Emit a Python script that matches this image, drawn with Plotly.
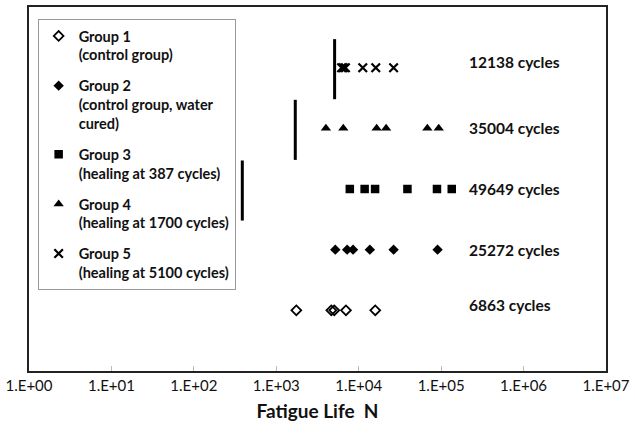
import plotly.graph_objects as go

# ---- data ----
group_names = [
    "Group 1<br>(control group)",
    "Group 2<br>(control group, water<br>cured)",
    "Group 3<br>(healing at 387 cycles)",
    "Group 4<br>(healing at 1700 cycles)",
    "Group 5<br>(healing at 5100 cycles)",
]
group_levels = [1, 2, 3, 4, 5]
group1_life = [1750, 4650, 5050, 7000, 15870]
group2_life = [5200, 7240, 8540, 13650, 26500, 90500]
group3_life = [7800, 11800, 15800, 39000, 89000, 134500]
group4_life = [4000, 6500, 16500, 21500, 68000, 93500]
group5_life = [6200, 6500, 6900, 11200, 16100, 26500]
mean_labels = ["6863 cycles", "25272 cycles", "49649 cycles", "35004 cycles", "12138 cycles"]
healing_cycles = [387, 1700, 5100]
healing_levels = [3, 4, 5]
tick_values = [1, 10, 100, 1000, 10000, 100000, 1000000, 10000000]
tick_labels = ["1.E+00", "1.E+01", "1.E+02", "1.E+03", "1.E+04", "1.E+05", "1.E+06", "1.E+07"]

all_life = [group1_life, group2_life, group3_life, group4_life, group5_life]
symbols = ["diamond-open", "diamond", "square", "triangle-up", "x-thin-open"]
sizes = [7.5, 8, 8.5, 9, 8.5]

FONT = "Lato"
fig = go.Figure()

for i, (name, lvl, life, sym, sz) in enumerate(zip(group_names, group_levels, all_life, symbols, sizes)):
    marker = dict(symbol=sym, size=sz, color="black")
    if sym == "diamond-open":
        marker.update(line=dict(color="black", width=1.8))
    elif sym == "x-thin-open":
        marker.update(line=dict(color="black", width=2.2))
    else:
        marker.update(line=dict(width=0))
    fig.add_trace(go.Scatter(
        x=life, y=[lvl] * len(life), mode="markers", name=name,
        legendgroup=f"g{i}", marker=marker, cliponaxis=False,
    ))

for hc, lvl in zip(healing_cycles, healing_levels):
    fig.add_trace(go.Scatter(
        x=[hc, hc], y=[lvl - 0.52, lvl + 0.47], mode="lines",
        line=dict(color="black", width=3), showlegend=False, hoverinfo="skip",
    ))

label_offsets = [0.08, 0.0, 0.0, 0.0, 0.1]
for lvl, txt, off in zip(group_levels, mean_labels, label_offsets):
    fig.add_annotation(
        x=0.759, xref="paper", y=lvl + off, yref="y", text=txt,
        showarrow=False, xanchor="left", yanchor="middle",
        font=dict(family=FONT, size=15.5, color="#111", weight="bold"),
    )

fig.update_xaxes(
    type="log", range=[0, 7], tickvals=tick_values, ticktext=tick_labels,
    ticks="inside", ticklen=5, tickcolor="#bbbbbb", tickwidth=1,
    showgrid=False, zeroline=False,
    showline=True, linecolor="#222", linewidth=2, mirror=True,
    tickfont=dict(family=FONT, size=15, color="#111"),
    title=dict(text="Fatigue Life  N", standoff=12,
               font=dict(family=FONT, size=19, color="#111", weight="bold")),
)
fig.update_yaxes(
    range=[0, 6], showticklabels=False, ticks="", showgrid=False, zeroline=False,
    showline=True, linecolor="#222", linewidth=2, mirror=True,
)

fig.update_layout(
    width=635, height=436,
    margin=dict(l=27, r=24, t=5, b=65),
    plot_bgcolor="white", paper_bgcolor="white",
    legend=dict(
        x=0.015, y=0.967, xanchor="left", yanchor="top",
        bgcolor="white", bordercolor="#999", borderwidth=1,
        font=dict(family=FONT, size=14.5, color="#111", weight="bold"),
        valign="top", tracegroupgap=9, itemwidth=30,
    ),
)

fig.write_html("out.html", config={"displayModeBar": False},
               post_script="document.body.style.margin='0';")
